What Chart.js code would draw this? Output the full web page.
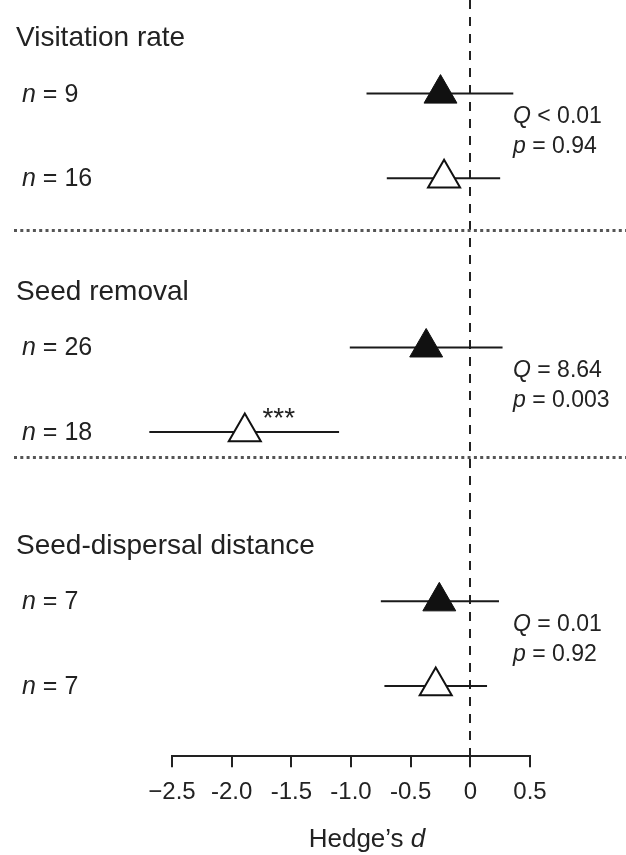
<!DOCTYPE html>
<html>
<head>
<meta charset="utf-8">
<script src="https://cdn.jsdelivr.net/npm/chart.js@4.4.1/dist/chart.umd.min.js"></script>
<style>
  body { margin: 0; background: #fff; }
  #wrap { width: 626px; height: 855px; }
</style>
</head>
<body>
<div id="wrap"><canvas id="forest" width="626" height="855"></canvas></div>
<script>
// Hedge's d forest plot, three response groups, two rows each

var groupNames = ['Visitation rate', 'Seed removal', 'Seed-dispersal distance'];
var sampleSizes = [9, 16, 26, 18, 7, 7];
var rowPos = [1, 2, 4, 5, 7, 8];
var effect = [-0.25, -0.22, -0.37, -1.89, -0.26, -0.29];
var ciLow = [-0.87, -0.70, -1.01, -2.69, -0.75, -0.72];
var ciHigh = [0.36, 0.25, 0.27, -1.10, 0.24, 0.14];
var filledRow = [true, false, true, false, true, false];
var sigMarks = ['', '', '', '***', '', ''];
var qStats = ['< 0.01', '= 8.64', '= 0.01'];
var pStats = ['= 0.94', '= 0.003', '= 0.92'];
var separators = [2.61, 5.3];
var tickLabels = ['\u22122.5', '-2.0', '-1.5', '-1.0', '-0.5', '0', '0.5'];
var xMin = -2.5, xMax = 0.5;

var FONT = "'Liberation Sans', Arial, Helvetica, sans-serif";
var INK = '#222';

// error bars as two-point lines
var datasets = [];
rowPos.forEach(function (y, i) {
  datasets.push({
    type: 'line',
    data: [{x: ciLow[i], y: y}, {x: ciHigh[i], y: y}],
    borderColor: '#1a1a1a',
    borderWidth: 2,
    pointRadius: 0,
    clip: false,
    order: 2
  });
});

var filledPts = [], openPts = [];
rowPos.forEach(function (y, i) {
  (filledRow[i] ? filledPts : openPts).push({x: effect[i], y: y});
});

datasets.push({
  type: 'scatter',
  data: filledPts,
  pointStyle: 'triangle',
  pointRadius: 19,
  backgroundColor: '#111',
  borderColor: '#111',
  borderWidth: 1,
  clip: false,
  order: 0
});
datasets.push({
  type: 'scatter',
  data: openPts,
  pointStyle: 'triangle',
  pointRadius: 18.5,
  backgroundColor: '#fff',
  borderColor: '#111',
  borderWidth: 2,
  clip: false,
  order: 0
});

// italic first part, upright rest
function drawMixed(ctx, ital, rest, x, y, size) {
  ctx.font = 'italic ' + size + 'px ' + FONT;
  ctx.fillText(ital, x, y);
  var w = ctx.measureText(ital).width;
  ctx.font = size + 'px ' + FONT;
  ctx.fillText(rest, x + w, y);
  return w + ctx.measureText(rest).width;
}

var refLines = {
  id: 'refLines',
  beforeDatasetsDraw: function (chart) {
    var ctx = chart.ctx, xs = chart.scales.x, ys = chart.scales.y;
    var area = chart.chartArea;
    ctx.save();
    // zero line
    ctx.strokeStyle = '#222';
    ctx.lineWidth = 2;
    ctx.setLineDash([9, 8]);
    var x0 = Math.round(xs.getPixelForValue(0));
    ctx.beginPath();
    ctx.moveTo(x0, 0);
    ctx.lineTo(x0, area.bottom);
    ctx.stroke();
    // group separators
    ctx.strokeStyle = '#555';
    ctx.lineWidth = 3;
    ctx.setLineDash([3, 3.3]);
    separators.forEach(function (s) {
      var py = Math.round(ys.getPixelForValue(s)) + 0.5;
      ctx.beginPath();
      ctx.moveTo(14, py);
      ctx.lineTo(626, py);
      ctx.stroke();
    });
    ctx.restore();
  },
  afterDraw: function (chart) {
    var ctx = chart.ctx, xs = chart.scales.x, ys = chart.scales.y;
    ctx.save();
    ctx.fillStyle = INK;
    ctx.textBaseline = 'middle';
    ctx.textAlign = 'left';

    groupNames.forEach(function (g, k) {
      var first = rowPos[k * 2], second = rowPos[k * 2 + 1];
      ctx.font = '28px ' + FONT;
      ctx.fillText(g, 16, ys.getPixelForValue(first - 0.65));
      var mid = ys.getPixelForValue((first + second) / 2);
      drawMixed(ctx, 'Q', ' ' + qStats[k], 513, mid - 19, 23);
      drawMixed(ctx, 'p', ' ' + pStats[k], 513, mid + 11, 23);
    });

    rowPos.forEach(function (y, i) {
      var py = ys.getPixelForValue(y);
      drawMixed(ctx, 'n', ' = ' + sampleSizes[i], 22, py + 1, 25);
      if (sigMarks[i]) {
        ctx.font = '28px ' + FONT;
        ctx.textAlign = 'center';
        ctx.textBaseline = 'alphabetic';
        ctx.fillText(sigMarks[i], xs.getPixelForValue(effect[i]) + 34, py - 5);
        ctx.textAlign = 'left';
        ctx.textBaseline = 'middle';
      }
    });

    // axis title
    ctx.font = '26px ' + FONT;
    var a = ctx.measureText('Hedge\u2019s ').width;
    ctx.font = 'italic 26px ' + FONT;
    var b = ctx.measureText('d').width;
    var sx = 367 - (a + b) / 2;
    ctx.font = '26px ' + FONT;
    ctx.fillText('Hedge\u2019s ', sx, 840);
    ctx.font = 'italic 26px ' + FONT;
    ctx.fillText('d', sx + a, 840);
    ctx.restore();
  }
};

new Chart(document.getElementById('forest'), {
  data: { datasets: datasets },
  options: {
    responsive: false,
    animation: false,
    layout: { autoPadding: false, padding: { left: 172, right: 96, top: 9, bottom: 37 } },
    plugins: { legend: { display: false }, tooltip: { enabled: false } },
    scales: {
      x: {
        type: 'linear',
        position: 'bottom',
        min: xMin,
        max: xMax,
        border: { display: true, color: '#222', width: 2 },
        grid: { drawOnChartArea: false, drawTicks: true, tickLength: 11, color: '#222', lineWidth: 2 },
        ticks: {
          stepSize: 0.5,
          autoSkip: false,
          maxRotation: 0,
          padding: 11,
          color: INK,
          font: { family: FONT, size: 24 },
          callback: function (v) {
            return tickLabels[Math.round((v - xMin) / 0.5)];
          }
        }
      },
      y: {
        type: 'linear',
        display: false,
        reverse: true,
        min: 0,
        max: 8.83
      }
    }
  },
  plugins: [refLines]
});
</script>
</body>
</html>
